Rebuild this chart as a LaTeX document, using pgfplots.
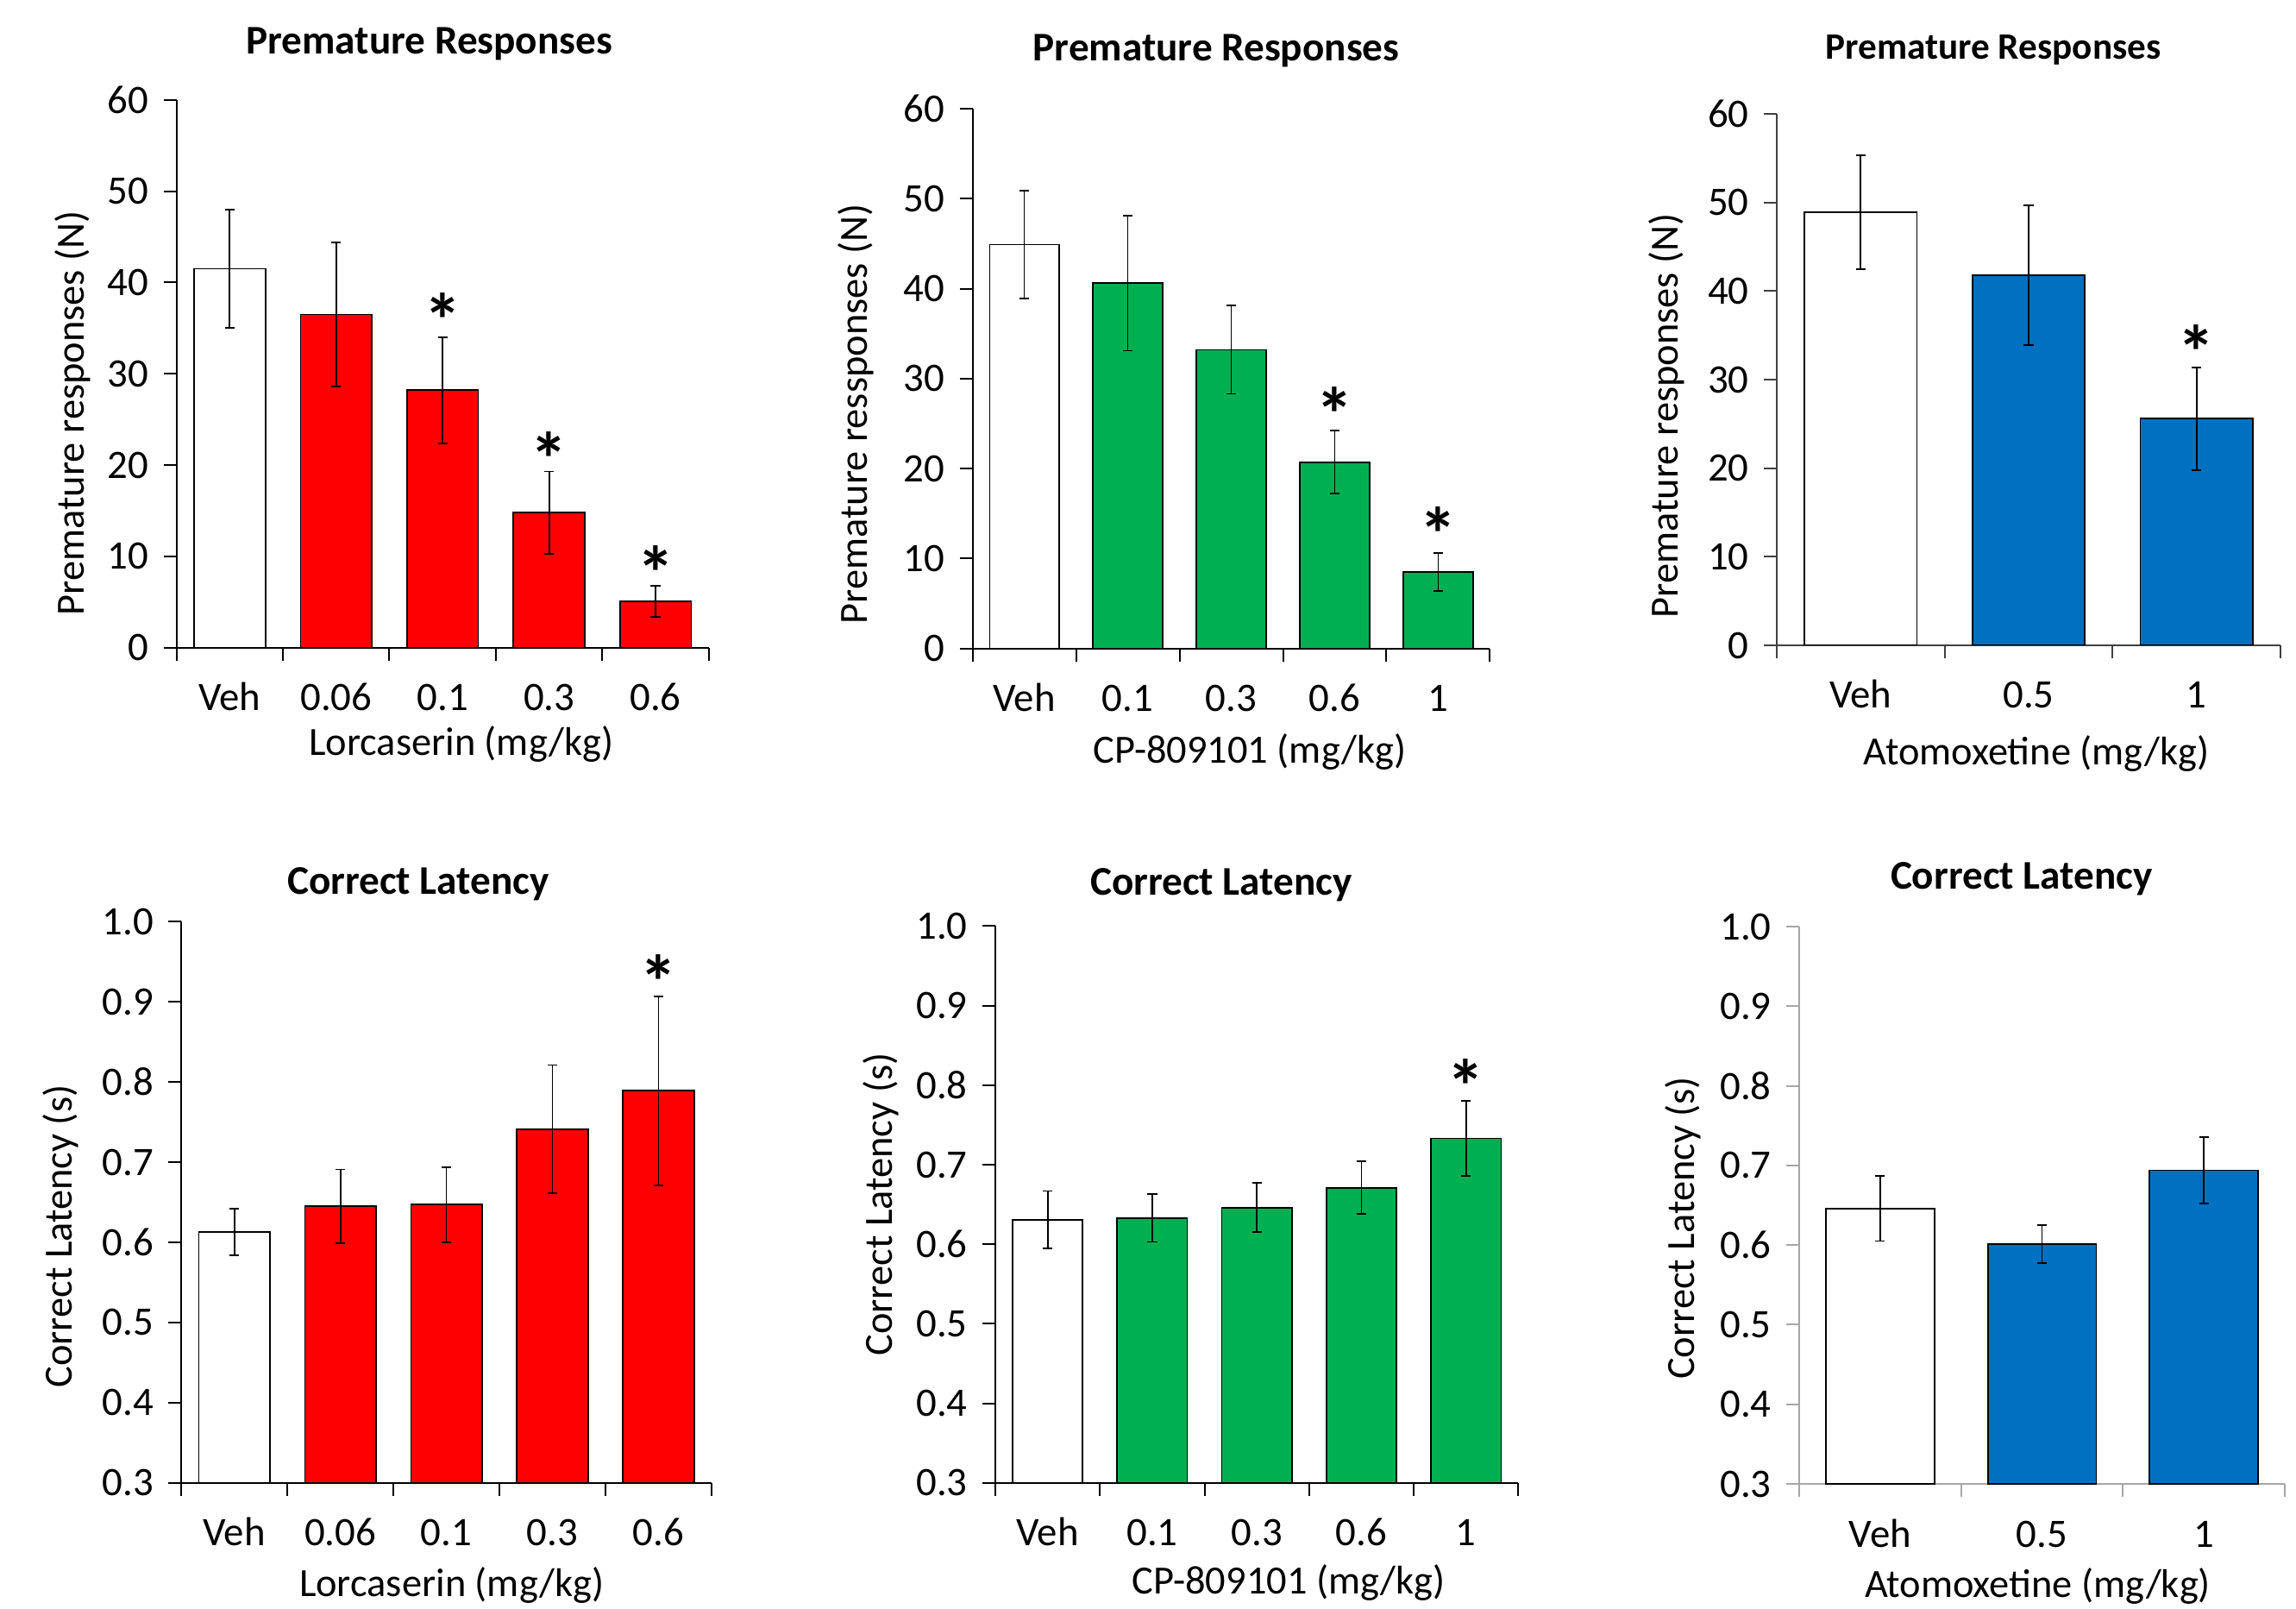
\documentclass[border=0pt]{standalone}
\usepackage{pgfplots}
\pgfplotsset{compat=1.18}
\usepackage{fontspec}
\setmainfont{Carlito}
\definecolor{cred}{HTML}{FF0000}
\definecolor{cgreen}{HTML}{00B050}
\definecolor{cblue}{HTML}{0070C0}
\definecolor{axgray}{HTML}{404040}
\definecolor{axlight}{HTML}{A6A6A6}
\pgfplotsset{
  panel/.style={
    scale only axis,
    axis lines*=left,
    tick align=outside,
    major tick length=3.75pt,
    axis line style={line width=0.5pt},
    every tick/.style={line width=0.5pt},
    /pgf/number format/assume math mode=true,
    tick label style={font=\fontsize{11.7}{13}\selectfont},
    yticklabel style={xshift=-0.8pt},
    label style={font=\fontsize{11.6}{13}\selectfont},
    title style={font=\bfseries\fontsize{11.8}{14}\selectfont, anchor=center, yshift=0pt},
    xlabel style={anchor=center},
    ylabel style={anchor=center},
    xticklabels={},
    extra x tick style={major tick length=0pt, xticklabel style={anchor=base, yshift=-18.25pt}},
  },
  bars/.style={ybar, bar shift=0pt, bar width=0.67, draw=black, line width=0.45pt,
    error bars/y dir=both, error bars/y explicit,
    error bars/error bar style={line width=0.45pt, black},
    error bars/error mark options={rotate=90, mark size=1.4pt, line width=0.45pt, black}},
}
\tikzset{star/.style={font=\bfseries\fontsize{22}{22}\selectfont, inner sep=0pt, anchor=center, yshift=-3.3pt}}
\begin{document}
\begin{tikzpicture}
\path[use as bounding box] (0,0) rectangle (665.5pt,466pt);

% ---------- Panel 1 ----------
\begin{axis}[panel, at={(51.15pt,278.35pt)}, anchor=south west, width=154.3pt, height=158.7pt,
  xmin=-0.5, xmax=4.5, ymin=0, ymax=60, ytick={0,10,20,30,40,50,60},
  xtick={-0.5,0.5,1.5,2.5,3.5,4.5},
  extra x ticks={0,1,2,3,4}, extra x tick labels={Veh,0.06,0.1,0.3,0.6},
  title={Premature Responses}, title style={at={(axis description cs:0.475,1.064)}},
  xlabel={Lorcaserin (mg/kg)}, xlabel style={at={(axis description cs:0.535,-0.1764)}},
  ylabel={Premature responses (N)}, ylabel style={at={(axis description cs:-0.1954,0.428)}}]
\addplot[fill=white, bars] table[x=x,y=y,y error=e]{
x y e
0 41.5 6.5
};
\addplot[fill=cred, bars] table[x=x,y=y,y error=e]{
x y e
1 36.5 7.9
2 28.2 5.8
3 14.8 4.5
4 5.1 1.7
};
\node[star] at (axis cs:2,37.1) {*};
\node[star] at (axis cs:3,21.9) {*};
\node[star] at (axis cs:4,9.4) {*};
\end{axis}

% ---------- Panel 2 ----------
\begin{axis}[panel, at={(281.9pt,278.1pt)}, anchor=south west, width=149.95pt, height=156.4pt,
  xmin=-0.5, xmax=4.5, ymin=0, ymax=60, ytick={0,10,20,30,40,50,60},
  xtick={-0.5,0.5,1.5,2.5,3.5,4.5},
  extra x ticks={0,1,2,3,4}, extra x tick labels={Veh,0.1,0.3,0.6,1},
  title={Premature Responses}, title style={at={(axis description cs:0.471,1.069)}},
  xlabel={CP-809101 (mg/kg)}, xlabel style={at={(axis description cs:0.536,-0.192)}},
  ylabel={Premature ressponses (N)}, ylabel style={at={(axis description cs:-0.225,0.434)}}]
\addplot[fill=white, bars] table[x=x,y=y,y error=e]{
x y e
0 44.9 6.0
};
\addplot[fill=cgreen, bars] table[x=x,y=y,y error=e]{
x y e
1 40.6 7.5
2 33.2 4.9
3 20.7 3.5
4 8.5 2.1
};
\node[star] at (axis cs:3,27.3) {*};
\node[star] at (axis cs:4,14.0) {*};
\end{axis}

% ---------- Panel 3 ----------
\begin{axis}[panel, at={(515pt,279pt)}, anchor=south west, width=146pt, height=154pt,
  axis line style={axgray, line width=0.5pt}, every tick/.style={axgray, line width=0.5pt},
  xmin=-0.5, xmax=2.5, ymin=0, ymax=60, ytick={0,10,20,30,40,50,60},
  xtick={-0.5,0.5,1.5,2.5},
  extra x ticks={0,1,2}, extra x tick labels={Veh,0.5,1},
  title={Premature Responses}, title style={at={(axis description cs:0.430,1.082)}, font=\bfseries\fontsize{10.8}{13}\selectfont},
  xlabel={Atomoxetine (mg/kg)}, xlabel style={at={(axis description cs:0.515,-0.2045)}},
  ylabel={Premature responses (N)}, ylabel style={at={(axis description cs:-0.219,0.432)}}]
\addplot[fill=white, bars] table[x=x,y=y,y error=e]{
x y e
0 48.9 6.4
};
\addplot[fill=cblue, bars] table[x=x,y=y,y error=e]{
x y e
1 41.8 7.9
2 25.6 5.8
};
\node[star] at (axis cs:2,34.4) {*};
\end{axis}

% ---------- Panel 4 ----------
\begin{axis}[panel, at={(52.55pt,36.3pt)}, anchor=south west, width=153.7pt, height=162.65pt,
  xmin=-0.5, xmax=4.5, ymin=0.3, ymax=1.0, ytick={0.3,0.4,0.5,0.6,0.7,0.8,0.9,1.0},
  yticklabel style={/pgf/number format/.cd, fixed, fixed zerofill, precision=1},
  xtick={-0.5,0.5,1.5,2.5,3.5,4.5},
  extra x ticks={0,1,2,3,4}, extra x tick labels={Veh,0.06,0.1,0.3,0.6},
  title={Correct Latency}, title style={at={(axis description cs:0.447,1.030)}},
  xlabel={Lorcaserin (mg/kg)}, xlabel style={at={(axis description cs:0.51,-0.183)}},
  ylabel={Correct Latency (s)}, ylabel style={at={(axis description cs:-0.2277,0.439)}}]
\addplot[fill=white, bars] table[x=x,y=y,y error=e]{
x y e
0 0.613 0.029
};
\addplot[fill=cred, bars] table[x=x,y=y,y error=e]{
x y e
1 0.645 0.046
2 0.647 0.047
3 0.741 0.080
4 0.789 0.118
};
\node[star] at (axis cs:4,0.939) {*};
\end{axis}

% ---------- Panel 5 ----------
\begin{axis}[panel, at={(288.5pt,36.3pt)}, anchor=south west, width=151.6pt, height=161.35pt,
  xmin=-0.5, xmax=4.5, ymin=0.3, ymax=1.0, ytick={0.3,0.4,0.5,0.6,0.7,0.8,0.9,1.0},
  yticklabel style={/pgf/number format/.cd, fixed, fixed zerofill, precision=1},
  xtick={-0.5,0.5,1.5,2.5,3.5,4.5},
  extra x ticks={0,1,2,3,4}, extra x tick labels={Veh,0.1,0.3,0.6,1},
  title={Correct Latency}, title style={at={(axis description cs:0.432,1.037)}},
  xlabel={CP-809101 (mg/kg)}, xlabel style={at={(axis description cs:0.561,-0.180)}},
  ylabel={Correct Latency (s)}, ylabel style={at={(axis description cs:-0.219,0.5)}}]
\addplot[fill=white, bars] table[x=x,y=y,y error=e]{
x y e
0 0.631 0.036
};
\addplot[fill=cgreen, bars] table[x=x,y=y,y error=e]{
x y e
1 0.633 0.030
2 0.646 0.031
3 0.671 0.033
4 0.733 0.047
};
\node[star] at (axis cs:4,0.813) {*};
\end{axis}

% ---------- Panel 6 ----------
\begin{axis}[panel, at={(521.5pt,36pt)}, anchor=south west, width=140.75pt, height=161.5pt,
  axis line style={axlight, line width=0.5pt}, every tick/.style={axlight, line width=0.5pt},
  xmin=-0.5, xmax=2.5, ymin=0.3, ymax=1.0, ytick={0.3,0.4,0.5,0.6,0.7,0.8,0.9,1.0},
  yticklabel style={/pgf/number format/.cd, fixed, fixed zerofill, precision=1},
  xtick={-0.5,0.5,1.5,2.5},
  extra x ticks={0,1,2}, extra x tick labels={Veh,0.5,1},
  title={Correct Latency}, title style={at={(axis description cs:0.458,1.048)}},
  xlabel={Atomoxetine (mg/kg)}, xlabel style={at={(axis description cs:0.491,-0.183)}},
  ylabel={Correct Latency (s)}, ylabel style={at={(axis description cs:-0.240,0.459)}}]
\addplot[fill=white, bars] table[x=x,y=y,y error=e]{
x y e
0 0.646 0.041
};
\addplot[fill=cblue, bars] table[x=x,y=y,y error=e]{
x y e
1 0.601 0.024
2 0.694 0.042
};
\end{axis}
\end{tikzpicture}
\end{document}
